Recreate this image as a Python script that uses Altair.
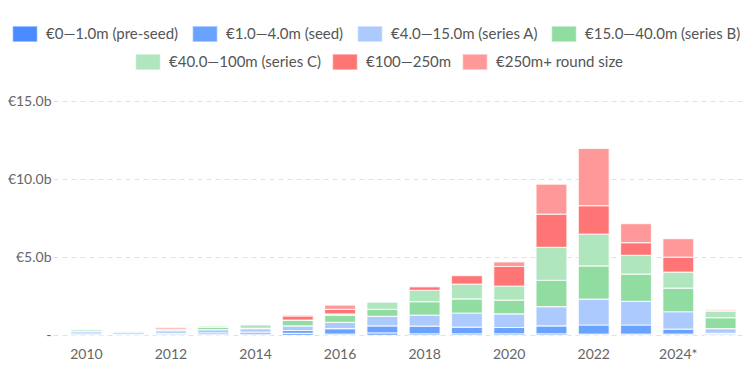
import altair as alt
import pandas as pd

years = ["2010", "2011", "2012", "2013", "2014", "2015", "2016", "2017",
         "2018", "2019", "2020", "2021", "2022", "2023", "2024*", "2025*"]
shown_years = ["2010", "2012", "2014", "2016", "2018", "2020", "2022", "2024*"]

stages = ["€0—1.0m (pre-seed)", "€1.0—4.0m (seed)", "€4.0—15.0m (series A)",
          "€15.0—40.0m (series B)", "€40.0—100m (series C)", "€100—250m",
          "€250m+ round size"]
colors = ["#4a8cff", "#6aa3ff", "#adcaff", "#91dca1", "#b0e6bd", "#ff7474", "#ff9999"]

# values in € billions
pre_seed = [0.02, 0.02, 0.03, 0.03, 0.05, 0.10, 0.05, 0.13, 0.08, 0.08, 0.08, 0.08, 0.06, 0.06, 0.06, 0.03]
seed     = [0.05, 0.04, 0.08, 0.10, 0.13, 0.19, 0.36, 0.45, 0.49, 0.43, 0.40, 0.51, 0.58, 0.58, 0.32, 0.08]
series_a = [0.15, 0.13, 0.17, 0.22, 0.23, 0.30, 0.40, 0.62, 0.70, 0.90, 0.88, 1.23, 1.66, 1.51, 1.11, 0.30]
series_b = [0.02, 0.00, 0.03, 0.13, 0.02, 0.34, 0.45, 0.45, 0.87, 0.91, 0.88, 1.69, 2.13, 1.75, 1.52, 0.70]
series_c = [0.10, 0.02, 0.05, 0.08, 0.21, 0.03, 0.09, 0.45, 0.73, 0.94, 0.90, 2.11, 2.03, 1.21, 1.02, 0.42]
r100_250 = [0.00, 0.00, 0.10, 0.00, 0.00, 0.26, 0.29, 0.00, 0.23, 0.55, 1.25, 2.13, 1.83, 0.81, 0.96, 0.03]
r250p    = [0.00, 0.00, 0.00, 0.00, 0.00, 0.06, 0.28, 0.00, 0.03, 0.00, 0.30, 1.92, 3.67, 1.21, 1.19, 0.06]

series = [pre_seed, seed, series_a, series_b, series_c, r100_250, r250p]

rows = []
for i, yr in enumerate(years):
    for k, name in enumerate(stages):
        rows.append({"year": yr, "stage": name, "order": k, "value": series[k][i]})
df = pd.DataFrame(rows)

FONT = "Lato"
RECT = "M-1.5625,-1H1.5625V1H-1.5625Z"  # 25x16 legend swatch at size 256

x_enc = alt.X("year:N", sort=years, title=None,
              scale=alt.Scale(paddingInner=0.27, paddingOuter=0.283, align=0.75),
              axis=alt.Axis(values=shown_years, labelAngle=0, ticks=False, domain=False,
                            grid=False, labelPadding=12, labelFont=FONT,
                            labelFontSize=14, labelColor="#666"))
y_enc = alt.Y("y0:Q", title=None, scale=alt.Scale(domain=[0, 15], nice=False),
              axis=alt.Axis(values=[0, 5, 10, 15], ticks=False, domain=False,
                            grid=True, gridDash=[5, 4], gridColor="#e2e2e2",
                            labelPadding=2, labelFont=FONT, labelFontSize=14,
                            labelColor="#666",
                            labelExpr="datum.value == 0 ? '-' : '€' + format(datum.value, '.1f') + 'b'"))

base = alt.Chart(df).transform_stack(
    stack="value", as_=["y0", "y1"], groupby=["year"],
    sort=[alt.SortField("order", order="ascending")]
).transform_filter("datum.value > 0")

def layer(lo, hi, lx, ly, cpad):
    return base.transform_filter(f"datum.order >= {lo} && datum.order < {hi}").mark_bar(
        stroke="white", strokeWidth=1.2, strokeOpacity=0.75
    ).encode(
        x=x_enc,
        y=y_enc,
        y2="y1:Q",
        color=alt.Color("stage:N",
                        scale=alt.Scale(domain=stages[lo:hi], range=colors[lo:hi]),
                        legend=alt.Legend(title=None, orient="none", legendX=lx, legendY=ly,
                                          direction="horizontal", columns=hi - lo,
                                          symbolType=RECT, symbolSize=256,
                                          symbolStrokeColor="rgba(255,255,255,0.6)",
                                          symbolStrokeWidth=1.5,
                                          labelFont=FONT, labelFontSize=15,
                                          labelColor="#555", labelOffset=12,
                                          labelLimit=300,
                                          columnPadding=cpad)),
    )

chart = alt.layer(
    layer(0, 4, -37, -76, 10),
    layer(4, 7, 86, -48, 7),
).resolve_scale(color="independent").properties(
    width=689, height=234,
    padding={"left": 45, "top": 93, "right": 6, "bottom": 32},
    autosize=alt.AutoSizeParams(type="none"),
).configure_view(stroke=None)

chart.save("out.html", embed_options={"renderer": "svg", "actions": False})
